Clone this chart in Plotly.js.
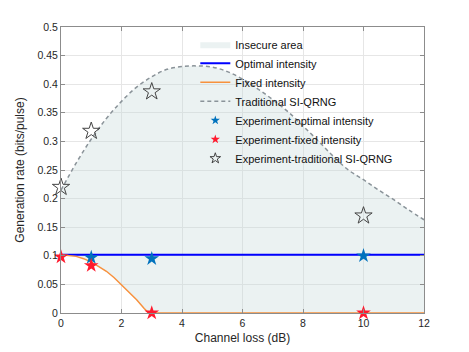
<!DOCTYPE html>
<html>
<head>
<meta charset="utf-8">
<script src="https://cdn.plot.ly/plotly-3.0.1.min.js"></script>
<style>
  body { margin: 0; background: #fff; }
  #plot { width: 469px; height: 352px; }
</style>
</head>
<body>
<div id="plot"></div>
<script>
// theory curves
var tradX = [0, 0.5, 1, 1.5, 2, 2.5, 3, 3.5, 4, 4.5, 5, 5.5, 6, 6.5, 7, 7.5, 8, 8.5, 9, 9.5, 10, 10.5, 11, 11.5, 12];
var tradY = [0.215, 0.262, 0.304, 0.34, 0.37, 0.395, 0.413, 0.426, 0.431, 0.432, 0.43, 0.422, 0.409, 0.392, 0.373, 0.352, 0.327, 0.301, 0.274, 0.25, 0.233, 0.215, 0.198, 0.18, 0.163];

var fixedX = [0, 0.25, 0.5, 0.75, 1, 1.25, 1.5, 1.75, 2, 2.25, 2.5, 2.75, 2.9, 12];
var fixedY = [0.102, 0.101, 0.099, 0.095, 0.089, 0.081, 0.073, 0.062, 0.049, 0.036, 0.023, 0.008, 0, 0];

var optX = [0, 12];
var optY = [0.102, 0.102];

// experiment points
var expOptX = [1, 3, 10];
var expOptY = [0.097, 0.095, 0.1];

var expFixedX = [0, 1, 3, 10];
var expFixedY = [0.098, 0.083, 0, 0];

var expTradX = [0, 1, 3, 10];
var expTradY = [0.22, 0.318, 0.387, 0.17];

// insecure area = between fixed curve and traditional curve
var areaX = fixedX.concat(tradX.slice().reverse());
var areaY = fixedY.concat(tradY.slice().reverse());

var blueStar = '#0072bd', redStar = '#ff1a2e', openStar = '#444444';

var data = [
  {
    x: areaX, y: areaY, mode: 'lines', fill: 'toself',
    fillcolor: 'rgba(195,215,215,0.33)', line: {width: 0},
    name: 'Insecure area', hoverinfo: 'skip'
  },
  {
    x: optX, y: optY, mode: 'lines',
    line: {color: '#0000ff', width: 2},
    name: 'Optimal intensity'
  },
  {
    x: fixedX, y: fixedY, mode: 'lines',
    line: {color: '#f7913d', width: 1.5},
    name: 'Fixed intensity'
  },
  {
    x: tradX, y: tradY, mode: 'lines',
    line: {color: '#8a9399', width: 1.5, dash: '4px,3px', shape: 'spline'},
    name: 'Traditional SI-QRNG'
  },
  {
    x: expOptX, y: expOptY, mode: 'markers', cliponaxis: false, showlegend: false,
    marker: {symbol: 'star', size: 11, color: blueStar}
  },
  {
    x: expFixedX, y: expFixedY, mode: 'markers', cliponaxis: false, showlegend: false,
    marker: {symbol: 'star', size: 11, color: redStar}
  },
  {
    x: expTradX, y: expTradY, mode: 'markers', cliponaxis: false, showlegend: false,
    marker: {symbol: 'star-open', size: 13, color: openStar, line: {width: 1}}
  },
  // small legend markers, like the original
  {
    x: [null], y: [null], mode: 'markers',
    marker: {symbol: 'star', size: 7, color: blueStar},
    name: 'Experiment-optimal intensity'
  },
  {
    x: [null], y: [null], mode: 'markers',
    marker: {symbol: 'star', size: 7, color: redStar},
    name: 'Experiment-fixed intensity'
  },
  {
    x: [null], y: [null], mode: 'markers',
    marker: {symbol: 'star-open', size: 8, color: openStar, line: {width: 1}},
    name: 'Experiment-traditional SI-QRNG'
  }
];

var axisStyle = {
  showline: true, mirror: 'ticks', linecolor: '#8c8c8c', linewidth: 1,
  ticks: 'inside', ticklen: 4, tickcolor: '#8c8c8c',
  showgrid: true, gridcolor: '#e6e6e6', zeroline: false,
  tickfont: {size: 10.5, color: '#262626'}
};

var layout = {
  width: 469, height: 352,
  margin: {l: 61, r: 45, t: 27, b: 39},
  paper_bgcolor: '#ffffff', plot_bgcolor: '#ffffff',
  font: {family: 'Liberation Sans, Arial, sans-serif', color: '#262626'},
  showlegend: true,
  legend: {
    x: 0.37, xanchor: 'left', y: 0.99, yanchor: 'top',
    bgcolor: 'rgba(0,0,0,0)', borderwidth: 0,
    font: {size: 11, color: '#111111'}, tracegroupgap: 0
  },
  xaxis: Object.assign({}, axisStyle, {
    range: [0, 12], dtick: 2,
    title: {text: 'Channel loss (dB)', font: {size: 12}, standoff: 6}
  }),
  yaxis: Object.assign({}, axisStyle, {
    range: [0, 0.5], dtick: 0.05,
    title: {text: 'Generation rate (bits/pulse)', font: {size: 12}, standoff: 10}
  })
};

Plotly.newPlot('plot', data, layout, {displayModeBar: false, staticPlot: true});
</script>
</body>
</html>
